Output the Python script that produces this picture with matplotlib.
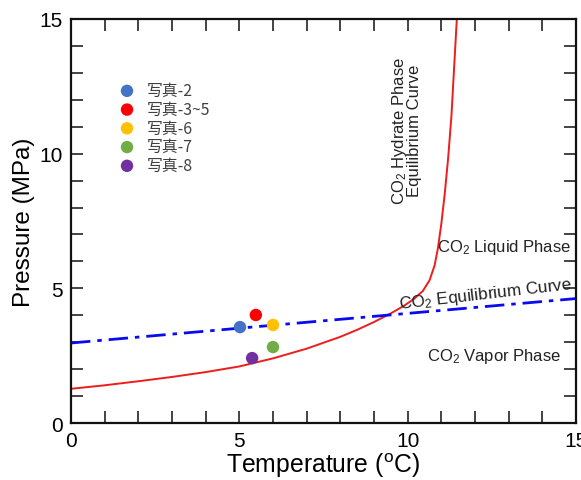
import matplotlib
matplotlib.use("Agg")
import matplotlib.pyplot as plt
import numpy as np

plt.rcParams['font.family'] = ['Liberation Sans', 'DejaVu Sans']
plt.rcParams['mathtext.fontset'] = 'custom'
plt.rcParams['mathtext.rm'] = 'Liberation Sans'
plt.rcParams['mathtext.it'] = 'Liberation Sans:italic'

# ---- data ----
hydrate_T = [0, 1, 2, 3, 4, 5, 6, 7, 8, 8.5, 9, 9.5, 9.9, 10.2, 10.45, 10.65, 10.8, 10.9, 11.0,
             11.1, 11.2, 11.3, 11.46]
hydrate_P = [1.27, 1.40, 1.55, 1.71, 1.89, 2.10, 2.40, 2.76, 3.20, 3.46, 3.75, 4.07, 4.36, 4.62,
             4.90, 5.30, 5.85, 6.50, 7.40, 8.50, 9.80, 11.40, 15.0]

co2_T = [0, 15]
co2_P = [2.97, 4.62]

sample_labels = ['写真-2', '写真-3~5', '写真-6', '写真-7', '写真-8']
sample_T = [5.02, 5.49, 6.0, 6.0, 5.38]
sample_P = [3.56, 4.01, 3.64, 2.82, 2.41]
sample_colors = ['#4472C4', '#FF0000', '#FFC000', '#70AD47', '#7030A0']

x_ticks = [0, 5, 10, 15]
y_ticks = [0, 5, 10, 15]

# ---- figure ----
W, H = 581, 481
fig = plt.figure(figsize=(W / 100, H / 100), dpi=100)
ax = fig.add_axes([71 / W, 1 - 424 / H, (576 - 71) / W, (424 - 20) / H])

ax.plot(hydrate_T, hydrate_P, color='#EE1C1C', lw=1.4, zorder=2,
        solid_joinstyle='round')

ax.plot(co2_T, co2_P, color='#0A0AEE', lw=2.0, dashes=(7, 2.5, 1.6, 2.5), zorder=2)

for lab, t, p, c in zip(sample_labels, sample_T, sample_P, sample_colors):
    ax.scatter([t], [p], s=80, color=c, edgecolors='none', label=lab, zorder=3)

ax.set_xlim(0, 15)
ax.set_ylim(0, 15)
ax.set_xticks(x_ticks)
ax.set_yticks(y_ticks)
ax.set_xticks(np.arange(0, 16, 1), minor=True)
ax.set_yticks(np.arange(0, 16, 1), minor=True)
ax.tick_params(which='both', direction='in', top=True, right=True, length=8.5, width=1.1, color='#111111')
ax.tick_params(which='major', labelsize=15, pad=6)
for s in ax.spines.values():
    s.set_linewidth(1.6)
    s.set_color('#111111')

ax.set_xlabel(r'Temperature ($^{\rm o}$C)', fontsize=17.8, labelpad=0)
ax.set_ylabel('Pressure (MPa)', fontsize=17.5, labelpad=3)

tc = '#222222'
ax.text(9.95, 10.88, 'CO$_\\mathrm{2}$ Hydrate Phase\nEquilibrium Curve', rotation=90,
        ha='center', va='center', fontsize=12, color=tc, linespacing=0.85)
ax.text(12.86, 6.54, 'CO$_\\mathrm{2}$ Liquid Phase', ha='center', va='center', fontsize=12, color=tc)
ax.text(12.3, 4.79, 'CO$_\\mathrm{2}$ Equilibrium Curve', ha='center', va='center', fontsize=12.3,
        color=tc, rotation=6.6, rotation_mode='anchor')
ax.text(12.56, 2.49, 'CO$_\\mathrm{2}$ Vapor Phase', ha='center', va='center', fontsize=12, color=tc)

leg = ax.legend(loc='upper left', bbox_to_anchor=((119.1 - 71) / (576 - 71), 1 - (83 - 20) / (424 - 20)),
                frameon=False, borderpad=0, borderaxespad=0, handlelength=1.0, handletextpad=0.77,
                labelspacing=0.11, prop={'family': ['Noto Sans CJK SC', 'DejaVu Sans'], 'size': 11.4})
for t in leg.get_texts():
    t.set_color('#404040')

fig.savefig('out.png', dpi=100)
